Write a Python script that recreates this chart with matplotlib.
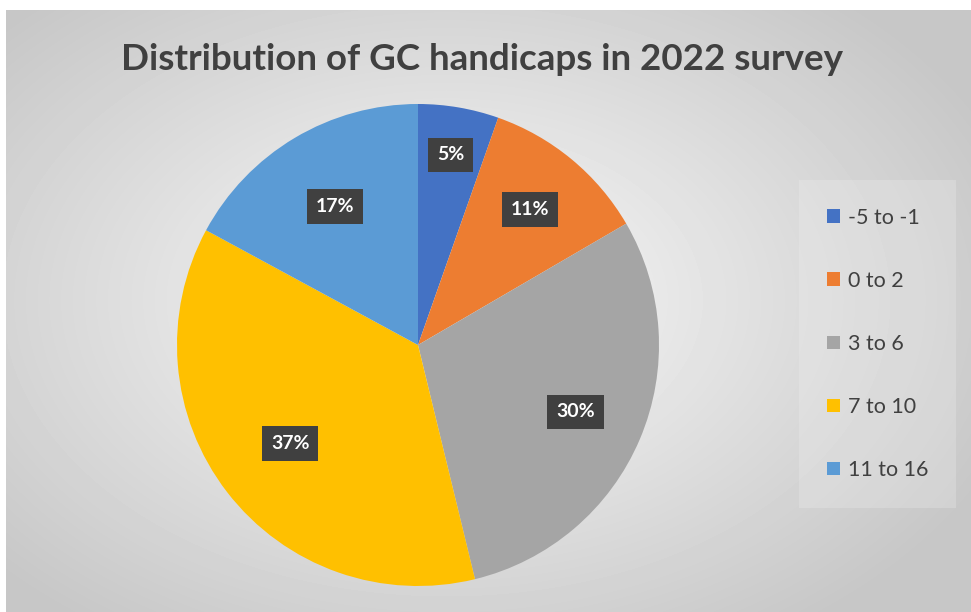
import numpy as np
import matplotlib
matplotlib.use('Agg')
from matplotlib import pyplot as plt

# data (share of respondents, %)
categories = ['-5 to -1', '0 to 2', '3 to 6', '7 to 10', '11 to 16']
shares = [5.4, 11.2, 29.6, 36.7, 17.1]
pct_labels = ['5%', '11%', '30%', '37%', '17%']
colors = ['#4472C4', '#ED7D31', '#A5A5A5', '#FFC000', '#5B9BD5']
label_r = [0.80, 0.73, 0.71, 0.67, 0.67]

plt.rcParams['font.family'] = ['Lato', 'DejaVu Sans']

fig = plt.figure(figsize=(9.71, 6.12), dpi=100)
fig.patch.set_facecolor('white')

# radial grey background
bg = fig.add_axes([6/971, 0, 1 - 6/971, 602/612])
yy, xx = np.mgrid[0:602, 0:965]
d = np.sqrt(((xx - 440) / 600.0) ** 2 + ((yy - 290) / 400.0) ** 2)
d = np.clip(d, 0, 1)
shade = 0.98 - 0.2 * d
bg.imshow(shade, cmap='gray', vmin=0, vmax=1, aspect='auto', interpolation='bilinear')
bg.axis('off')

# pie
ax = fig.add_axes([(418 - 241) / 971, 26 / 612, 482 / 971, 482 / 612])
wedges, _ = ax.pie(shares, colors=colors, startangle=90, counterclock=False,
                   radius=1, wedgeprops=dict(linewidth=0))
ax.set_xlim(-1, 1)
ax.set_ylim(-1, 1)
ax.set_aspect('equal')
ax.axis('off')

for w, lab, r in zip(wedges, pct_labels, label_r):
    mid = np.deg2rad((w.theta1 + w.theta2) / 2)
    ax.text(r * np.cos(mid), r * np.sin(mid), lab, ha='center', va='center',
            color='white', fontsize=14, fontweight='bold',
            bbox=dict(boxstyle='square,pad=0.45', facecolor='#404040', edgecolor='none'))

fig.text(482 / 971, 0.902, 'Distribution of GC handicaps in 2022 survey', ha='center', va='center',
         fontsize=26.5, fontweight='bold', color='#404040')

leg = fig.legend(wedges, categories, loc='center left', bbox_to_anchor=(795 / 971, 0.438),
                 frameon=True, fontsize=15.5, labelspacing=2.0, handlelength=0.6,
                 handleheight=0.6, handletextpad=0.35, borderpad=1.0)
leg.get_frame().set_facecolor('#f2f2f2')
leg.get_frame().set_alpha(0.25)
leg.get_frame().set_edgecolor('none')
leg.get_frame().set_boxstyle('square')
for t in leg.get_texts():
    t.set_color('#404040')

fig.savefig('out.png', dpi=100)
